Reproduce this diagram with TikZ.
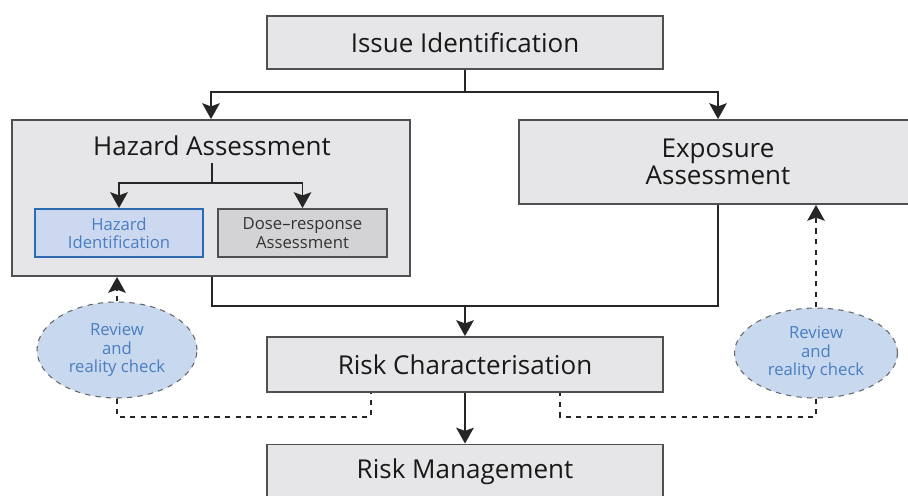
\documentclass[tikz,border=0pt]{standalone}
\usepackage{fontspec}
\setmainfont{Open Sans}
\usetikzlibrary{arrows.meta, shapes.geometric}
\definecolor{boxgray}{HTML}{E6E6E8}
\definecolor{edgegray}{HTML}{505052}
\definecolor{hazfill}{HTML}{CCD8F0}
\definecolor{hazedge}{HTML}{2D6BB0}
\definecolor{dosefill}{HTML}{D3D3D5}
\definecolor{revfill}{HTML}{C8D8EE}
\definecolor{revtext}{HTML}{4A7EC2}
\newcommand{\bigtext}{\fontsize{14.8}{16}\selectfont}
\newcommand{\smalltext}{\fontsize{9.5}{10.4}\selectfont}

\begin{document}
\begin{tikzpicture}[x=0.02cm, y=-0.02cm, >={Stealth[length=9pt, width=10pt, inset=1.8pt]}, line width=1pt]
                \tikzset{stage/.style={draw=edgegray, line width=1.1pt, fill=boxgray, font=\bigtext, text=black!90, align=center, minimum width=7.92cm},
                         subbox/.style={draw=edgegray, line width=1.1pt, fill=dosefill, font=\smalltext, text=black!80, align=center, minimum width=3.37cm, minimum height=0.96cm},
                         checkbubble/.style={ellipse, draw=black!60, dashed, line width=0.6pt, fill=revfill, font=\smalltext, text=revtext, align=center, inner sep=0pt},
                         link/.style={draw=black!85},
                         feedback/.style={draw=black!85, dashed, line width=0.8pt}};
                \path[use as bounding box, clip] (0, 0) rectangle (908, 495);
                \fill[white] (0, 0) rectangle (908, 495);
                \node[stage, minimum height=1.06cm] (issue) at (465, 42.5) {Issue Identification};
                \node[stage, minimum width=7.96cm, minimum height=3.12cm] (hazard) at (211, 198) {};
                \node[font=\bigtext, text=black!90] (haztitle) at (212, 146) {Hazard Assessment};
                \node[stage, minimum width=7.96cm, minimum height=1.68cm] (expo) at (718, 162) {Exposure\\[-1pt]Assessment};
                \node[subbox, draw=hazedge, fill=hazfill, text=revtext, minimum width=3.36cm] (hazid) at (119, 233) {Hazard\\Identification};
                \node[subbox] (dose) at (302.5, 233) {Dose--response\\Assessment};
                \node[stage, minimum height=1.1cm] (riskchar) at (465, 364.5) {Risk Characterisation};
                \node[stage, minimum height=1.1cm] (riskman) at (465, 472) {Risk Management};
                \node[checkbubble, minimum width=3.2cm, minimum height=1.92cm] (rev1) at (117, 350) {Review\\and\\reality check};
                \node[checkbubble, minimum width=3.26cm, minimum height=1.8cm] (rev2) at (816, 353) {Review\\and\\reality check};
                \coordinate (split) at (465, 92);
                \coordinate (hazsplit) at (212, 183);
                \coordinate (merge) at (465, 306);
                \coordinate (fb1) at (371, 417);
                \coordinate (fb2) at (560, 417);
                \draw[link] (issue) -- (split);
                \draw[link, ->] (split) -| (hazard);
                \draw[link, ->] (split) -| (expo);
                \draw[link] (haztitle.south) -- (hazsplit);
                \draw[link, ->] (hazsplit) -| (hazid);
                \draw[link, ->] (hazsplit) -| (dose);
                \draw[link] (hazard.south -| hazsplit) |- (merge) -| (expo);
                \draw[link, ->] (merge) -- (riskchar);
                \draw[link, ->] (riskchar) -- (riskman);
                \draw[feedback, ->] (rev1) -- (rev1 |- hazard.south);
                \draw[feedback, ->] (rev2) -- (rev2 |- expo.south);
                \draw[feedback] (rev1) |- (fb1) -- (fb1 |- riskchar.south);
                \draw[feedback] (rev2) |- (fb2) -- (fb2 |- riskchar.south);
            \end{tikzpicture}
\end{document}
